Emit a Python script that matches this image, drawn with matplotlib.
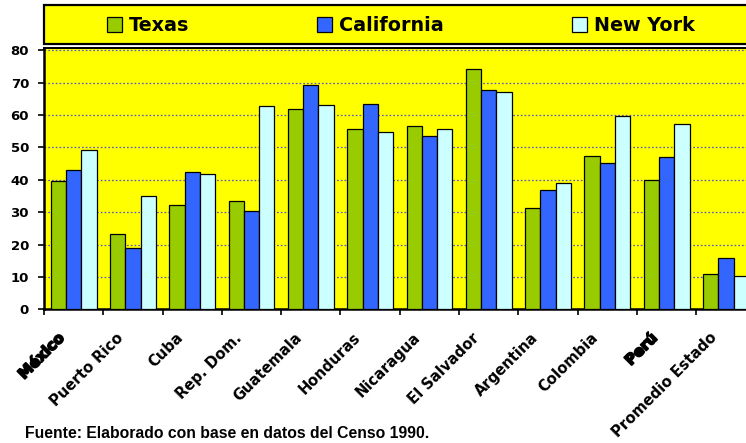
import matplotlib
matplotlib.use("Agg")
import matplotlib.pyplot as plt
import numpy as np
from matplotlib.transforms import ScaledTranslation
from matplotlib.patches import Rectangle
from matplotlib.font_manager import FontProperties
import matplotlib.patheffects as pe

# ---------------- data ----------------
categories = ["México", "Puerto Rico", "Cuba", "Rep. Dom.", "Guatemala", "Honduras",
              "Nicaragua", "El Salvador", "Argentina", "Colombia", "Perú", "Promedio Estado"]
texas = [39.6, 23.2, 32.2, 33.5, 61.9, 55.8, 56.6, 74.1, 31.3, 47.3, 40.0, 11.0]
california = [42.9, 18.8, 42.3, 30.3, 69.4, 63.5, 53.5, 67.6, 36.8, 45.3, 47.1, 15.9]
new_york = [49.3, 34.9, 41.9, 62.7, 63.1, 54.9, 55.8, 67.2, 39.1, 59.7, 57.3, 10.2]
series_names = ["Texas", "California", "New York"]
y_ticks = [0, 10, 20, 30, 40, 50, 60, 70, 80]
footnote = "Fuente: Elaborado con base en datos del Censo 1990."

# ---------------- style ----------------
colors = ["#99CC00", "#3366FF", "#CCFFFF"]
W, H = 746, 443
fig = plt.figure(figsize=(W / 100, H / 100), dpi=100)
fig.patch.set_facecolor("white")

ax_left, ax_right, ax_top, ax_bot = 44, 755.6, 48.3, 309.3
ax = fig.add_axes([ax_left / W, (H - ax_bot) / H, (ax_right - ax_left) / W, (ax_bot - ax_top) / H])
ax.set_facecolor("#FFFF00")

n = len(categories)
centers = np.arange(n) + 0.5
bw = 0.258
series = [texas, california, new_york]
handles = []
for i, (vals, name, c) in enumerate(zip(series, series_names, colors)):
    b = ax.bar(centers + (i - 1) * bw, vals, width=bw, color=c, edgecolor="black",
               linewidth=0.9, label=name, zorder=3)
    handles.append(b)

ax.set_xlim(0, n)
ax.set_ylim(0, 80.6)
ax.set_yticks(y_ticks)
ax.set_yticklabels([str(v) for v in y_ticks])
ax.yaxis.grid(True, color="#5a5acd", linestyle=(0, (1.4, 1.6)), linewidth=0.9, zorder=1)
ax.set_axisbelow(True)

for s in ["left", "bottom"]:
    ax.spines[s].set_linewidth(1.8)
    ax.spines[s].set_color("black")
ax.spines["top"].set_linewidth(1.4)
ax.spines["right"].set_visible(False)

ax.tick_params(axis="y", direction="out", length=4.3, width=1.2, pad=6.5,
               labelsize=9.5, colors="black")
for lab in ax.get_yticklabels():
    lab.set_fontfamily("DejaVu Sans")
    lab.set_fontweight("bold")

# category boundary ticks
ax.set_xticks(np.arange(0, n + 1), minor=True)
ax.tick_params(axis="x", which="minor", direction="out", length=4.3, width=1.2)
ax.set_xticks(centers)
ax.set_xticklabels(categories, rotation=45, ha="right", va="top", rotation_mode="anchor",
                   fontsize=10.6, fontweight="bold", fontfamily="DejaVu Sans")
ax.tick_params(axis="x", which="major", length=0, pad=15)
offset = ScaledTranslation(-17 / 100, 0, fig.dpi_scale_trans)
for lab in ax.get_xticklabels():
    lab.set_transform(lab.get_transform() + offset)
    if lab.get_text() in ("México", "Perú"):
        lab.set_path_effects([pe.withStroke(linewidth=1.3, foreground="black")])

# legend box
box = Rectangle((44 / W, (H - 43.5) / H), (760 - 44) / W, 38.5 / H, transform=fig.transFigure,
                facecolor="#FFFF00", edgecolor="black", linewidth=1.6, clip_on=False)
fig.patches.append(box)
fs = 13.8
em = fs * 100 / 72
fig.legend(handles=handles, labels=series_names, loc="center left",
           bbox_to_anchor=(107 / W, (H - 25.5) / H), ncol=3, frameon=False,
           prop=FontProperties(family="DejaVu Sans", weight="bold", size=fs),
           handlelength=15 / em, handleheight=15 / em, handletextpad=7 / em,
           columnspacing=128 / em, borderpad=0, borderaxespad=0)

fig.text(25 / W, (H - 438) / H, footnote, fontsize=11.3, fontweight="bold",
         fontfamily="Liberation Sans", va="baseline", ha="left")

fig.savefig("out.png", dpi=100)
